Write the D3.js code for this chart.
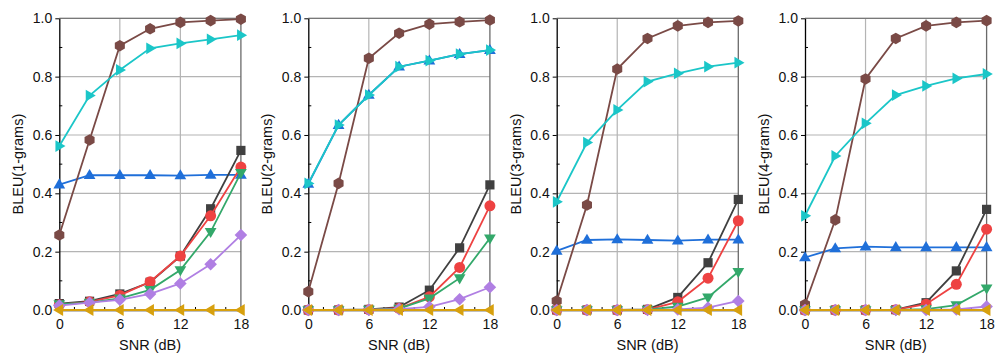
<!DOCTYPE html>
<html>
<head>
<meta charset="utf-8">
<script src="https://cdn.jsdelivr.net/npm/d3@7"></script>
<style>
	body { margin: 0; background: #fff; }
	svg { font-family: "Liberation Sans", Arial, sans-serif; }
</style>
</head>
<body>
<div id="chart"></div>
<script>
// SNR points (dB)
var snr = [0, 3, 6, 9, 12, 15, 18];
var xTicks = [0, 6, 12, 18];
var yTicks = [0, 0.2, 0.4, 0.6, 0.8, 1.0];
var panelTitles = ["BLEU(1-grams)", "BLEU(2-grams)", "BLEU(3-grams)", "BLEU(4-grams)"];

// one array per series, one row per panel (1..4-grams)
var squareGray = [
	[0.022, 0.030, 0.055, 0.095, 0.185, 0.347, 0.547],
	[0, 0, 0.002, 0.010, 0.068, 0.213, 0.429],
	[0, 0, 0, 0.002, 0.043, 0.162, 0.379],
	[0, 0, 0, 0.001, 0.025, 0.134, 0.345]
];
var circleRed = [
	[0.018, 0.028, 0.050, 0.097, 0.185, 0.323, 0.490],
	[0, 0, 0.001, 0.006, 0.045, 0.146, 0.357],
	[0, 0, 0, 0.001, 0.028, 0.109, 0.306],
	[0, 0, 0, 0.001, 0.020, 0.088, 0.277]
];
var downGreen = [
	[0.020, 0.025, 0.040, 0.069, 0.137, 0.268, 0.470],
	[0, 0, 0.001, 0.005, 0.040, 0.109, 0.246],
	[0, 0, 0, 0.001, 0.012, 0.043, 0.131],
	[0, 0, 0, 0, 0.003, 0.017, 0.074]
];
var diamondPurple = [
	[0.015, 0.025, 0.035, 0.055, 0.091, 0.157, 0.257],
	[0, 0, 0, 0.003, 0.011, 0.037, 0.078],
	[0, 0, 0, 0, 0.002, 0.008, 0.031],
	[0, 0, 0, 0, 0, 0.002, 0.012]
];
var leftOrange = [
	[0, 0, 0, 0, 0, 0, 0],
	[0, 0, 0, 0, 0, 0, 0],
	[0, 0, 0, 0, 0, 0, 0],
	[0, 0, 0, 0, 0, 0, 0]
];
var hexBrown = [
	[0.257, 0.583, 0.906, 0.964, 0.986, 0.992, 0.997],
	[0.063, 0.434, 0.863, 0.949, 0.980, 0.988, 0.994],
	[0.031, 0.360, 0.826, 0.931, 0.974, 0.986, 0.991],
	[0.019, 0.309, 0.792, 0.931, 0.974, 0.986, 0.992]
];
var upBlue = [
	[0.430, 0.462, 0.462, 0.462, 0.461, 0.463, 0.463],
	[0.432, 0.634, 0.737, 0.834, 0.855, 0.877, 0.891],
	[0.203, 0.240, 0.242, 0.240, 0.238, 0.241, 0.241],
	[0.180, 0.211, 0.217, 0.215, 0.215, 0.215, 0.215]
];
var rightCyan = [
	[0.562, 0.735, 0.823, 0.897, 0.914, 0.928, 0.942],
	[0.434, 0.634, 0.737, 0.834, 0.855, 0.877, 0.891],
	[0.371, 0.574, 0.686, 0.783, 0.811, 0.834, 0.848],
	[0.323, 0.528, 0.640, 0.737, 0.768, 0.794, 0.809]
];

// draw order (later = on top)
var series = [
	{ values: upBlue, color: "#1f6fd9", shape: "up" },
	{ values: hexBrown, color: "#7a4a46", shape: "hex" },
	{ values: rightCyan, color: "#1bc6c8", shape: "right" },
	{ values: squareGray, color: "#404040", shape: "square" },
	{ values: circleRed, color: "#ee4242", shape: "circle" },
	{ values: downGreen, color: "#33a86a", shape: "down" },
	{ values: diamondPurple, color: "#b07fe3", shape: "diamond" },
	{ values: leftOrange, color: "#d7a00e", shape: "left" }
];

var width = 1005, height = 356;
var panelLeft = [59.3, 308.3, 556.7, 805];
var panelWidth = 181.6;
var plotTop = 18.3, plotBottom = 310;

var svg = d3.select("#chart").append("svg")
	.attr("width", width)
	.attr("height", height);

function markerPath(shape) {
	var r;
	if(shape == "square") {
		r = 4.6;
		return "M" + (-r) + "," + (-r) + "H" + r + "V" + r + "H" + (-r) + "Z";
	}
	if(shape == "circle") {
		return d3.symbol().type(d3.symbolCircle).size(95)();
	}
	if(shape == "hex") {
		r = 5.8;
		var pts = d3.range(6).map(function(i) {
			var a = Math.PI / 6 + i * Math.PI / 3;
			return [r * Math.cos(a), r * Math.sin(a)];
		});
		return "M" + pts.join("L") + "Z";
	}
	if(shape == "diamond") {
		r = 6.3;
		return "M0," + (-r) + "L" + r + ",0L0," + r + "L" + (-r) + ",0Z";
	}
	// triangles
	r = 6.2;
	var tri = [[0, -r], [r * 0.95, r * 0.62], [-r * 0.95, r * 0.62]];
	var rot = { up: 0, right: 90, down: 180, left: 270 }[shape] * Math.PI / 180;
	var p = tri.map(function(t) {
		return [t[0] * Math.cos(rot) - t[1] * Math.sin(rot), t[0] * Math.sin(rot) + t[1] * Math.cos(rot)];
	});
	return "M" + p.join("L") + "Z";
}

panelTitles.forEach(function(title, k) {
	var x = d3.scaleLinear().domain([0, 18]).range([panelLeft[k], panelLeft[k] + panelWidth]);
	var y = d3.scaleLinear().domain([0, 1]).range([plotBottom, plotTop]);
	var g = svg.append("g");

	// grid
	g.selectAll(".gx").data(xTicks.slice(1, -1)).enter().append("line")
		.attr("x1", function(d) { return x(d); }).attr("x2", function(d) { return x(d); })
		.attr("y1", plotTop).attr("y2", plotBottom)
		.attr("stroke", "#b4b4b4").attr("stroke-width", 1.2);
	g.selectAll(".gy").data(yTicks.slice(1)).enter().append("line")
		.attr("x1", x(0)).attr("x2", x(18))
		.attr("y1", function(d) { return y(d); }).attr("y2", function(d) { return y(d); })
		.attr("stroke", "#b4b4b4").attr("stroke-width", 1.2);

	// frame top / right
	g.append("line").attr("x1", x(0)).attr("x2", x(18)).attr("y1", plotTop).attr("y2", plotTop)
		.attr("stroke", "#6a6a6a").attr("stroke-width", 1);
	g.append("line").attr("x1", x(18)).attr("x2", x(18)).attr("y1", plotTop).attr("y2", plotBottom)
		.attr("stroke", "#6a6a6a").attr("stroke-width", 1.3);

	// minor ticks (inward)
	g.selectAll(".mx").data(d3.range(1.5, 18, 1.5)).enter().append("line")
		.attr("x1", function(d) { return x(d); }).attr("x2", function(d) { return x(d); })
		.attr("y1", plotBottom).attr("y2", plotBottom - 3)
		.attr("stroke", "#000").attr("stroke-width", 1);
	g.selectAll(".my").data(d3.range(0.1, 1, 0.2)).enter().append("line")
		.attr("x1", x(0)).attr("x2", x(0) + 3)
		.attr("y1", function(d) { return y(d); }).attr("y2", function(d) { return y(d); })
		.attr("stroke", "#000").attr("stroke-width", 1);

	// axes
	var xAxis = d3.axisBottom(x).tickValues(xTicks).tickFormat(d3.format("d")).tickSizeInner(4).tickSizeOuter(0).tickPadding(5);
	var yAxis = d3.axisLeft(y).tickValues(yTicks).tickFormat(d3.format(".1f")).tickSizeInner(4).tickSizeOuter(0).tickPadding(3);
	var gx = g.append("g").attr("transform", "translate(0," + plotBottom + ")").call(xAxis);
	var gy = g.append("g").attr("transform", "translate(" + x(0) + ",0)").call(yAxis);
	[gx, gy].forEach(function(a) {
		a.selectAll("path").attr("stroke", "#000").attr("stroke-width", 1.3);
		a.selectAll("line").attr("stroke", "#000");
		a.selectAll("text").attr("fill", "#111").style("font-size", "14px");
	});
	gx.selectAll(".tick line").attr("transform", "translate(0,-4)");

	// axis titles
	g.append("text")
		.attr("x", x(9)).attr("y", 350)
		.attr("text-anchor", "middle")
		.style("font-size", "14.5px").attr("fill", "#111")
		.text("SNR (dB)");
	g.append("text")
		.attr("transform", "translate(" + (x(0) - 36) + "," + y(0.5) + ") rotate(-90)")
		.attr("text-anchor", "middle")
		.style("font-size", "14.5px").attr("fill", "#111")
		.text(title);

	// series
	var line = d3.line().x(function(d, i) { return x(snr[i]); }).y(function(d) { return y(d); });
	series.forEach(function(s) {
		var vals = s.values[k];
		g.append("path")
			.attr("d", line(vals))
			.attr("fill", "none")
			.attr("stroke", s.color)
			.attr("stroke-width", 1.8);
		g.selectAll(null).data(vals).enter().append("path")
			.attr("d", markerPath(s.shape))
			.attr("transform", function(d, i) { return "translate(" + x(snr[i]) + "," + y(d) + ")"; })
			.attr("fill", s.color);
	});
});
</script>
</body>
</html>
